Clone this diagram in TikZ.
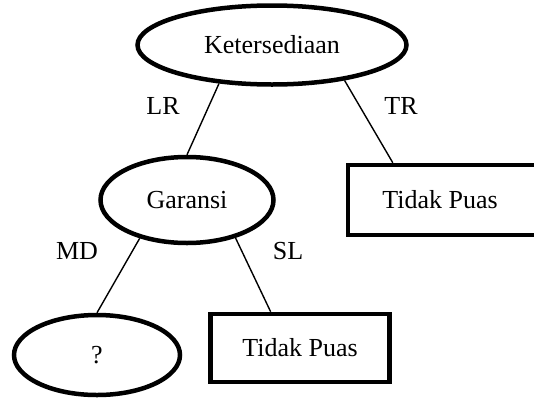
\documentclass[tikz,border=0pt]{standalone}
\usepackage{fontspec}
\setmainfont{Liberation Serif}
\usepackage{tikz}
\usetikzlibrary{shapes.geometric}

\begin{document}
\begin{tikzpicture}[x=1pt, y=-1pt]
        \tikzstyle{every node}=[font=\fontsize{26}{30}\selectfont, inner sep=0pt]
        \tikzstyle{attr}=[ellipse, draw, line width=4.5pt]
        \tikzstyle{leaf}=[rectangle, draw, line width=4.5pt]
        \tikzstyle{branch}=[line width=1.4pt]

        \useasboundingbox (0,0) rectangle (534,399);

        \node   (0)    [attr, minimum width=269pt, minimum height=79pt] at (272,45) {Ketersediaan};
        \node   (1)    [attr, minimum width=173pt, minimum height=86pt] at (187,200) {Garansi};
        \node   (2)    [attr, minimum width=166pt, minimum height=80pt] at (97,355) {?};
        \node   (3)    [leaf, minimum width=196pt, minimum height=70pt] at (446,200) {};
        \node   (3t)   at (440,200) {Tidak Puas};
        \node   (4)    [leaf, minimum width=179pt, minimum height=68pt] at (300,348) {Tidak Puas};

        \node   (lr)   at (163,106) {LR};
        \node   (tr)   at (401,106) {TR};
        \node   (md)   at (77,251) {MD};
        \node   (sl)   at (288,251) {SL};

        \draw[branch] (0.216) -- (1.north);
        \draw[branch] (0.334) -- (3.145);
        \draw[branch] (1.219) -- (2.north);
        \draw[branch] (1.322) -- (4.129);

    \end{tikzpicture}
\end{document}
